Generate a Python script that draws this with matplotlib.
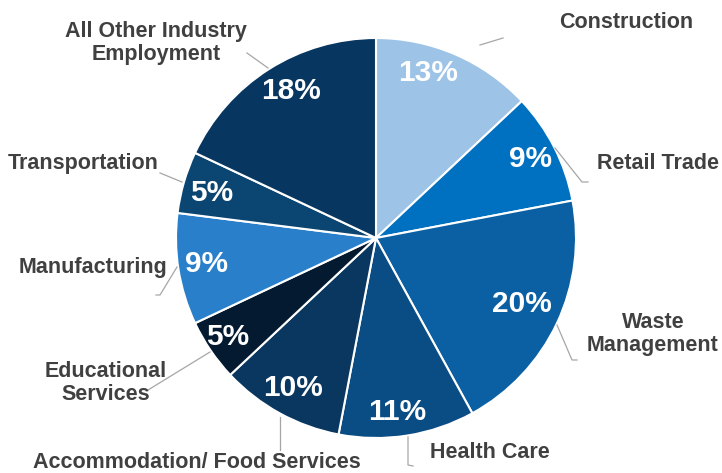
import matplotlib.pyplot as plt

# Dados do gráfico
categories = ['Construction', 'Retail Trade', 'Waste\nManagement', 'Health Care',
              'Accommodation/ Food Services', 'Educational\nServices', 'Manufacturing',
              'Transportation', 'All Other Industry\nEmployment']
shares = [13, 9, 20, 11, 10, 5, 9, 5, 18]
pct_labels = ['13%', '9%', '20%', '11%', '10%', '5%', '9%', '5%', '18%']
colors = ['#9DC3E6', '#0070C0', '#0B5FA3', '#0A4C84', '#0A3760',
          '#041A30', '#2A7FCB', '#0B4571', '#073660']

# Layout em pixels (y para baixo), convertido abaixo
W, H = 722, 473
cx, cy, R = 376, 238, 200
pct_pos = [(428, 73), (530, 159), (522, 304), (397, 412), (293, 388),
           (228, 337), (207, 264), (212, 193), (291, 91)]
label_pos = [(626, 22), (658, 163), (653, 334), (490, 453), (197, 462),
             (106, 383), (93, 268), (83, 163), (156, 43)]
leaders = [
    [(480, 45), (503, 38)],
    [(555, 148), (582, 182), (588, 182)],
    [(557, 325), (572, 360), (577, 360)],
    [(408, 437), (408, 465), (413, 466)],
    [(280, 417), (280, 450)],
    [(210, 352), (148, 390)],
    [(177, 267), (160, 295), (156, 295)],
    [(182, 182), (160, 173)],
    [(268, 68), (247, 53)],
]

plt.rcParams['font.family'] = ['Liberation Sans', 'DejaVu Sans']

fig = plt.figure(figsize=(W / 100, H / 100), dpi=100)
ax = fig.add_axes([0, 0, 1, 1])

ax.pie(shares, colors=colors, startangle=90, counterclock=False,
       radius=R, center=(cx, H - cy), frame=True,
       wedgeprops=dict(edgecolor='white', linewidth=1.5))
ax.set_xlim(0, W)
ax.set_ylim(0, H)
ax.set_aspect('equal')
ax.axis('off')

for txt, (x, y) in zip(pct_labels, pct_pos):
    ax.text(x, H - y, txt, color='white', fontsize=21.5, fontweight='bold',
            ha='center', va='center')

for txt, (x, y) in zip(categories, label_pos):
    ax.text(x, H - y, txt, color='#404040', fontsize=15.5, fontweight='bold',
            ha='center', va='center', linespacing=1.1)

for pts in leaders:
    xs = [p[0] for p in pts]
    ys = [H - p[1] for p in pts]
    ax.plot(xs, ys, color='#A6A6A6', linewidth=0.9)

plt.savefig('out.png', dpi=100)
